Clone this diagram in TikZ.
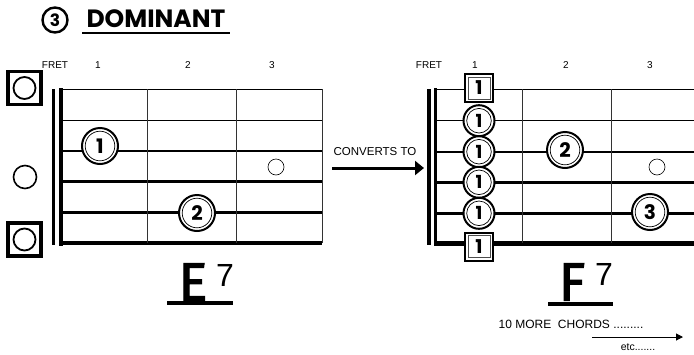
\documentclass[tikz,border=0pt]{standalone}
\usepackage{fontspec}
\setmainfont{Liberation Sans}
\newfontfamily\handfont{Poppins}
\newfontfamily\chordfont{Fira Sans}[FakeBold=2.2]
\usetikzlibrary{arrows.meta,positioning}
\tikzset{
  finger/.style={circle,draw=black,line width=2pt,fill=white,minimum size=#1,inner sep=0pt,
    font=\handfont\bfseries\fontsize{20}{20}\selectfont,
    path picture={\draw[line width=0.7pt] (path picture bounding box.center) circle[radius=0.5*#1-3.2pt];}},
  finger/.default=36pt,
  fingerbox/.style={rectangle,draw=black,line width=2pt,fill=white,minimum size=28pt,inner sep=0pt,
    font=\handfont\bfseries\fontsize{19}{19}\selectfont,
    path picture={\draw[line width=0.6pt,black!70] ([shift={(2.8pt,2.8pt)}]path picture bounding box.south west)
      rectangle ([shift={(-2.8pt,-2.8pt)}]path picture bounding box.north east);}},
  openbox/.style={rectangle,draw=black,line width=3.6pt,fill=white,minimum size=33pt,inner sep=0pt,
    path picture={\draw[line width=1.8pt] (path picture bounding box.center) circle[radius=11pt];}},
  opencirc/.style={circle,draw=black,line width=1.6pt,minimum size=23pt,inner sep=0pt},
  ring/.style={circle,draw=black,line width=0.6pt,minimum size=16pt,inner sep=0pt},
  fretno/.style={font=\fontsize{10}{10}\selectfont,inner sep=0pt},
  fretline/.style={line width=0.8pt,black!80},
  nutline/.style={line width=3.2pt},
  chord/.style={font=\chordfont\fontsize{54}{54}\selectfont,inner sep=0pt},
  chordsup/.style={font=\fontsize{32}{32}\selectfont,inner sep=0pt},
  note/.style={font=\fontsize{11}{11}\selectfont,inner sep=0pt},
}
\begin{document}
\begin{tikzpicture}[x=1pt,y=-1pt]
  \useasboundingbox[fill=white] (0,0) rectangle (694,354);
  % title
  \node[circle,draw,line width=2.4pt,minimum size=25pt,inner sep=0pt,
    font=\handfont\bfseries\fontsize{17}{17}\selectfont] (num) at (55,20) {3};
  \node[font=\handfont\bfseries\fontsize{25}{25}\selectfont,inner sep=0pt] (title) at (156,19) {DOMINANT};
  \draw[line width=2pt] (82,33) -- (230,33);

  % left chord grid (E7)
  \foreach \y/\w in {89.3/0.8,120.7/0.8,151.3/1.8,181.7/2.6,212.5/3.6,242.8/4.6}
    \draw[line width=\w pt] (61,\y) -- (322,\y);
  \foreach \x in {147,236,322}
    \draw[fretline] (\x,89.3) -- (\x,242.8);
  \draw[nutline] (53.5,89) -- (53.5,245);
  \draw[nutline] (61,88) -- (61,246);
  \node[fretno] (lfret) at (55,65) {FRET};
  \foreach \x/\n in {98/1,188/2,272/3}
    \node[fretno] (lf\n) at (\x,65) {\n};
  \node[openbox] (lopen1) at (24.5,88) {};
  \node[opencirc] (lopen2) at (25,177) {};
  \node[openbox] (lopen3) at (24.5,239.5) {};
  \node[ring] (lring) at (276,167) {};
  \node[finger] (le1) at (100,146) {1};
  \node[finger] (le2) at (197,213) {2};
  \node[chord] (ename) at (193,282) {E};
  \node[chordsup] (eseven) at (225,275) {7};
  \draw[line width=4pt] (167,303) -- (233,303);

  % converts to
  \node[note,font=\fontsize{11.5}{11.5}\selectfont] (conv) at (375,152) {CONVERTS TO};
  \coordinate (cfrom) at (332,168);
  \coordinate (cto) at (424,168);
  \draw[line width=3pt,-{Triangle[length=9pt,width=14pt]}] (cfrom) -- (cto);

  % right chord grid (F7)
  \foreach \y/\w in {89.3/0.8,120.7/0.8,151.7/1.8,182.3/2.6,213.3/3.6,243.3/4.6}
    \draw[line width=\w pt] (435,\y) -- (694,\y);
  \foreach \x in {522,611}
    \draw[fretline] (\x,89.3) -- (\x,243.3);
  \draw[nutline] (429,89) -- (429,245);
  \draw[nutline] (435.5,88) -- (435.5,246);
  \node[fretno] (rfret) at (429,65) {FRET};
  \foreach \x/\n in {475/1,566/2,650/3}
    \node[fretno] (rf\n) at (\x,65) {\n};
  \node[ring] (rring) at (657,167) {};
  \foreach \y/\k in {120.7/2,151.7/3,182.3/4,213.3/5}
    \node[finger=31pt,font=\handfont\bfseries\fontsize{18}{18}\selectfont] (rb\k) at (479,\y) {1};
  \node[fingerbox] (rb1) at (479,88) {1};
  \node[fingerbox] (rb6) at (479,246.5) {1};
  \node[finger] (rf2) at (565,150) {2};
  \node[finger] (rf3) at (650,212) {3};
  \node[chord] (fname) at (572,282) {F};
  \node[chordsup] (fseven) at (604,274) {7};
  \draw[line width=4pt] (548,304) -- (613,304);

  % more chords
  \node[note,font=\fontsize{12}{12}\selectfont] (more) at (571,324) {10 MORE\ \ CHORDS .........};
  \coordinate (mfrom) at (592,337);
  \coordinate (mto) at (683,337);
  \draw[line width=1pt,-{Triangle[length=7pt,width=7pt]}] (mfrom) -- (mto);
  \node[note,font=\fontsize{10.5}{10.5}\selectfont] (etc) at (638,347) {etc.......};
\end{tikzpicture}
\end{document}
